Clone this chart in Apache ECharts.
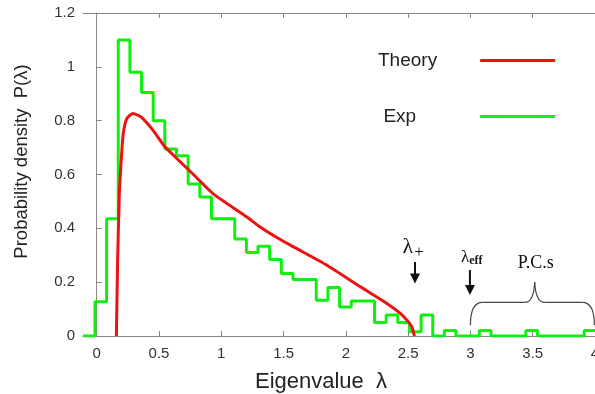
<!DOCTYPE html>
<html>
<head>
<meta charset="utf-8">
<script src="https://cdn.jsdelivr.net/npm/echarts@6/dist/echarts.min.js"></script>
<style>
  html, body { margin: 0; padding: 0; background: #fff; }
  #main { width: 595px; height: 394px; }
</style>
</head>
<body>
<div id="main"></div>
<script>
// axis ticks
const xTicks = [0, 0.5, 1, 1.5, 2, 2.5, 3, 3.5, 4];
const yTicks = [0, 0.2, 0.4, 0.6, 0.8, 1, 1.2];

const binStart = -0.014;
const binWidth = 0.0935;
const expHeights = [
  0.127, 0.436, 1.10, 0.98, 0.905, 0.80, 0.695, 0.67, 0.565, 0.516,
  0.436, 0.436, 0.36, 0.31, 0.333, 0.284, 0.232, 0.21, 0.21, 0.133,
  0.18, 0.108, 0.13, 0.13, 0.05, 0.078, 0.05, 0.016, 0.078, 0,
  0.02, 0, 0, 0.02, 0, 0, 0, 0.02, 0, 0,
  0, 0, 0.02
];

// theory curve (Marchenko-Pastur)
const theoryX = [0.158, 0.168, 0.182, 0.2, 0.213, 0.24, 0.29, 0.36, 0.454, 0.548,
  0.669, 0.73, 0.803, 0.936, 1.205, 1.312, 1.46, 1.58, 1.848, 2.116,
  2.33, 2.437, 2.49, 2.53, 2.55];
const theoryY = [0, 0.28, 0.53, 0.675, 0.752, 0.806, 0.827, 0.812, 0.763, 0.703,
  0.648, 0.621, 0.588, 0.528, 0.442, 0.405, 0.362, 0.331, 0.263, 0.183,
  0.121, 0.084, 0.059, 0.034, 0];

const xMin = -0.11, xMax = 4;

// build the step outline of the histogram
const expData = [[xMin, 0]];
expHeights.forEach((h, i) => {
  expData.push([binStart + i * binWidth, h]);
});
expData.push([binStart + expHeights.length * binWidth, expHeights[expHeights.length - 1]]);

const theoryData = theoryX.map((x, i) => [x, theoryY[i]]);

const chart = echarts.init(document.getElementById('main'));
const axisColor = '#888';
const sans = 'Liberation Sans, Arial, sans-serif';
const labelFont = { fontFamily: sans, fontSize: 15, color: '#333' };

const option = {
  animation: false,
  backgroundColor: '#fff',
  grid: { left: 83, right: 0, top: 13, bottom: 58, outerBoundsMode: 'none' },
  legend: {
    orient: 'vertical',
    left: 373,
    top: 46,
    align: 'right',
    itemWidth: 75,
    itemHeight: 3,
    itemGap: 37,
    icon: 'rect',
    textStyle: { fontFamily: sans, fontSize: 19, color: '#222' },
    data: [
      { name: 'Theory', textStyle: { padding: [0, 38, 0, 0] } },
      { name: 'Exp', textStyle: { padding: [0, 59, 0, 0] } }
    ]
  },
  xAxis: [
    {
      type: 'value',
      min: xMin,
      max: xMax,
      name: 'Eigenvalue  λ',
      nameLocation: 'middle',
      nameGap: 35,
      nameTextStyle: { fontFamily: sans, fontSize: 22, color: '#222', padding: [0, 36, 0, 0] },
      axisLine: { lineStyle: { color: axisColor, width: 1 } },
      axisTick: { inside: true, length: 5, customValues: xTicks, lineStyle: { color: axisColor } },
      axisLabel: Object.assign({ customValues: xTicks, margin: 10 }, labelFont),
      splitLine: { show: false }
    },
    {
      type: 'value',
      position: 'top',
      min: xMin,
      max: xMax,
      axisLine: { show: true, lineStyle: { color: axisColor, width: 1 } },
      axisTick: { inside: true, length: 5, customValues: xTicks, lineStyle: { color: axisColor } },
      axisLabel: { show: false },
      splitLine: { show: false }
    }
  ],
  yAxis: {
    type: 'value',
    min: 0,
    max: 1.2,
    interval: 0.2,
    name: 'Probability density  P(λ)',
    nameLocation: 'middle',
    nameGap: 52,
    nameTextStyle: { fontFamily: sans, fontSize: 18.5, color: '#222', padding: [0, 0, 0, 26] },
    axisLine: { show: true, lineStyle: { color: axisColor, width: 1 } },
    axisTick: { show: true, inside: true, length: 5, customValues: yTicks, lineStyle: { color: axisColor } },
    axisLabel: Object.assign({ margin: 8, customValues: yTicks }, labelFont),
    splitLine: { show: false }
  },
  series: [
    {
      name: 'Exp',
      type: 'line',
      step: 'end',
      data: expData,
      showSymbol: false,
      clip: true,
      itemStyle: { color: '#11ee11' },
      lineStyle: { color: '#11ee11', width: 3 },
      z: 2
    },
    {
      name: 'Theory',
      type: 'line',
      data: theoryData,
      smooth: 0.2,
      showSymbol: false,
      itemStyle: { color: '#ee1111' },
      lineStyle: { color: '#ee1111', width: 3 },
      z: 3
    }
  ]
};
chart.setOption(option);

// annotations placed in data coordinates
const px = (x, y) => chart.convertToPixel({ gridIndex: 0 }, [x, y]);
const serif = 'Liberation Serif, DejaVu Serif, serif';

function arrow(x, yTop, yTip) {
  const a = px(x, yTop), b = px(x, yTip);
  return [
    { type: 'line', shape: { x1: a[0], y1: a[1], x2: b[0], y2: b[1] - 8 }, style: { stroke: '#111', lineWidth: 2 } },
    { type: 'polygon', shape: { points: [[b[0] - 5, b[1] - 10], [b[0] + 5, b[1] - 10], [b[0], b[1]]] }, style: { fill: '#111' } }
  ];
}

const lp = px(2.54, 0.33);
const le = px(3.01, 0.29);
const pc = px(3.524, 0.27);
const bL = px(3.0, 0.04), bTop = px(3.5, 0.125), bTip = px(3.5, 0.2), bR = px(3.995, 0.04);
const bx0 = bL[0], bx1 = bR[0], bm = bTip[0] + 2, by = bTop[1], byb = bL[1], byt = bTip[1];

const graphics = [
  { type: 'text', x: lp[0], y: lp[1], style: {
      text: '{a|λ}{b|+}', align: 'center', verticalAlign: 'middle',
      rich: { a: { fontFamily: serif, fontSize: 22, fill: '#111' }, b: { fontFamily: serif, fontSize: 17, fill: '#111', padding: [10, 0, 0, 1] } }
  } },
  { type: 'text', x: le[0], y: le[1], style: {
      text: '{a|λ}{b|eff}', align: 'center', verticalAlign: 'middle',
      rich: { a: { fontFamily: serif, fontSize: 17, fill: '#111' }, b: { fontFamily: serif, fontSize: 12, fontWeight: 'bold', fill: '#111', padding: [6, 0, 0, 0] } }
  } },
  { type: 'text', x: pc[0], y: pc[1], style: { text: 'P.C.s', align: 'center', verticalAlign: 'middle', fontFamily: serif, fontSize: 18, fill: '#111' } }
].concat(arrow(2.555, 0.275, 0.195), arrow(2.996, 0.245, 0.152), [
  { type: 'bezierCurve', shape: { x1: bx0, y1: byb, cpx1: bx0, cpy1: by, x2: bx0 + 12, y2: by }, style: { stroke: '#444', lineWidth: 1.2, fill: null } },
  { type: 'line', shape: { x1: bx0 + 12, y1: by, x2: bm - 10, y2: by }, style: { stroke: '#444', lineWidth: 1.2 } },
  { type: 'bezierCurve', shape: { x1: bm - 10, y1: by, cpx1: bm - 1, cpy1: by, x2: bm, y2: byt }, style: { stroke: '#444', lineWidth: 1.2, fill: null } },
  { type: 'bezierCurve', shape: { x1: bm, y1: byt, cpx1: bm + 1, cpy1: by, x2: bm + 10, y2: by }, style: { stroke: '#444', lineWidth: 1.2, fill: null } },
  { type: 'line', shape: { x1: bm + 10, y1: by, x2: bx1 - 12, y2: by }, style: { stroke: '#444', lineWidth: 1.2 } },
  { type: 'bezierCurve', shape: { x1: bx1 - 12, y1: by, cpx1: bx1, cpy1: by, x2: bx1, y2: byb }, style: { stroke: '#444', lineWidth: 1.2, fill: null } }
]);

chart.setOption({ graphic: graphics });
</script>
</body>
</html>
